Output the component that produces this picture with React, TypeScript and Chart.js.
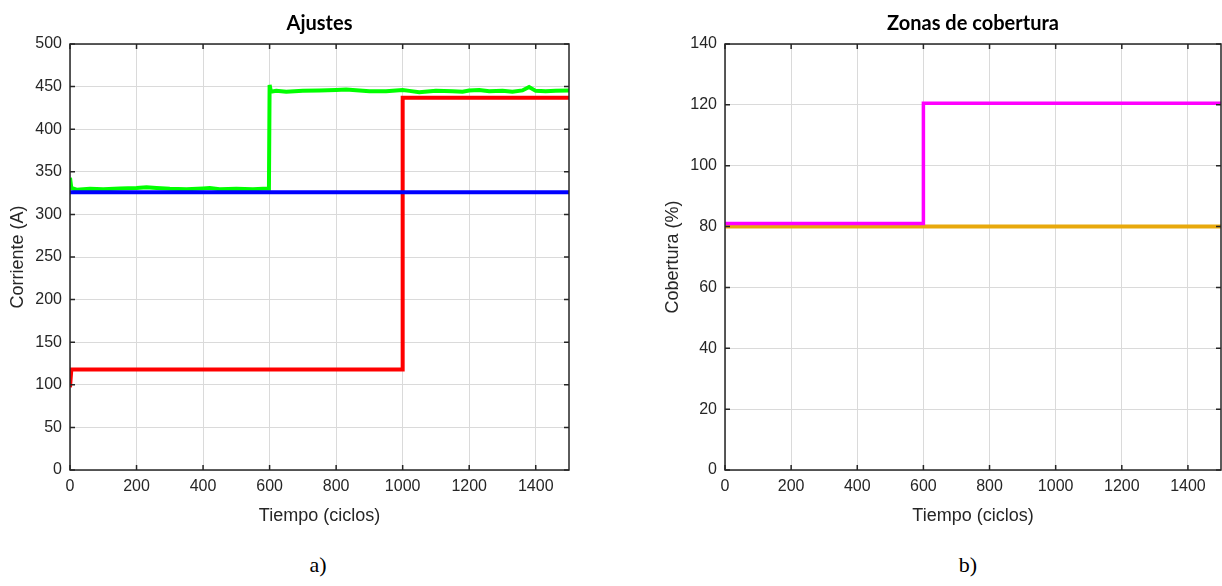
import React, { useEffect, useRef } from "react";
import { Chart, registerables } from "chart.js";

Chart.register(...registerables);

// ---- Data: left plot "Ajustes" ----
const blueX = [0, 1500];
const blueY = [326, 326];

const redX = [0, 0, 4, 1000, 1000, 1500];
const redY = [97, 97, 118, 118, 437, 437];

const greenX = [
  0, 4, 20, 60, 100, 150, 200, 230, 260, 300, 350, 400, 420, 450, 500, 550, 580, 598,
  600, 604, 620, 650, 700, 750, 800, 830, 870, 900, 950, 1000, 1020, 1050, 1100, 1150,
  1180, 1200, 1230, 1260, 1300, 1330, 1360, 1380, 1400, 1430, 1460, 1500,
];
const greenY = [
  343, 331, 329, 330, 329.5, 330.5, 331, 332, 331, 330, 329.5, 330.5, 331, 329.5, 330, 329.5, 330, 330,
  452, 444, 445, 444, 445, 445.5, 446, 446.5, 445.5, 444.5, 444.5, 446, 445, 443.5, 445, 444.5,
  444, 445.5, 446, 444.5, 445, 444, 445.5, 449.5, 445, 444.5, 445, 445.5,
];

// ---- Data: right plot "Zonas de cobertura" ----
const magentaX = [0, 600, 600, 1500];
const magentaY = [81, 81, 120.5, 120.5];
const orangeX = [0, 1500];
const orangeY = [80, 80];

const xTickValues = [0, 200, 400, 600, 800, 1000, 1200, 1400];

const pts = (xs: number[], ys: number[]) => xs.map((x, i) => ({ x, y: ys[i] }));

const AXIS_COLOR = "#262626";
const GRID_COLOR = "#dadada";
const SANS = "'Liberation Sans', Arial, sans-serif";

const boxPlugin = {
  id: "matlabBox",
  afterDraw(chart: any) {
    const { ctx, chartArea: a, scales } = chart;
    ctx.save();
    ctx.strokeStyle = AXIS_COLOR;
    ctx.lineWidth = 1.5;
    ctx.strokeRect(a.left, a.top, a.right - a.left, a.bottom - a.top);
    const len = 5;
    ctx.beginPath();
    scales.x.ticks.forEach((t: any) => {
      const px = scales.x.getPixelForValue(t.value);
      ctx.moveTo(px, a.bottom);
      ctx.lineTo(px, a.bottom - len);
      ctx.moveTo(px, a.top);
      ctx.lineTo(px, a.top + len);
    });
    scales.y.ticks.forEach((t: any) => {
      const py = scales.y.getPixelForValue(t.value);
      ctx.moveTo(a.left, py);
      ctx.lineTo(a.left + len, py);
      ctx.moveTo(a.right, py);
      ctx.lineTo(a.right - len, py);
    });
    ctx.stroke();
    ctx.restore();
  },
};

type DS = { data: { x: number; y: number }[]; color: string; width: number; order: number };

function makeConfig(
  title: string,
  yTitle: string,
  yMax: number,
  yStep: number,
  datasets: DS[],
  padRight: number
): any {
  return {
    type: "line",
    data: {
      datasets: datasets.map((d) => ({
        data: d.data,
        borderColor: d.color,
        backgroundColor: d.color,
        borderWidth: d.width,
        pointRadius: 0,
        tension: 0,
        fill: false,
        order: d.order,
        borderCapStyle: "butt",
        borderJoinStyle: "miter",
      })),
    },
    options: {
      responsive: false,
      animation: false,
      events: [],
      layout: { padding: { left: 0, right: padRight, top: 0, bottom: 0 } },
      plugins: {
        legend: { display: false },
        tooltip: { enabled: false },
        title: {
          display: true,
          text: title,
          fullSize: false,
          color: "#000",
          font: { family: "Lato, 'Open Sans', sans-serif", size: 20, weight: "bold", lineHeight: 1.1 },
          padding: { top: 13, bottom: 9 },
        },
      },
      scales: {
        x: {
          type: "linear",
          min: 0,
          max: 1500,
          afterFit: (s: any) => {
            s.height = 60;
          },
          afterBuildTicks: (s: any) => {
            s.ticks = xTickValues.map((v) => ({ value: v }));
          },
          grid: { color: GRID_COLOR, lineWidth: 1, drawTicks: false },
          border: { display: false },
          ticks: {
            color: AXIS_COLOR,
            padding: 7,
            maxRotation: 0,
            font: { family: SANS, size: 16 },
            callback: (v: number) => String(v),
          },
          title: {
            display: true,
            text: "Tiempo (ciclos)",
            color: AXIS_COLOR,
            font: { family: SANS, size: 18, lineHeight: 1.0 },
            padding: { top: 0, bottom: 5 },
          },
        },
        y: {
          type: "linear",
          min: 0,
          max: yMax,
          afterFit: (s: any) => {
            s.width = 70;
          },
          grid: { color: GRID_COLOR, lineWidth: 1, drawTicks: false },
          border: { display: false },
          ticks: {
            stepSize: yStep,
            color: AXIS_COLOR,
            padding: 8,
            font: { family: SANS, size: 16 },
            callback: (v: number) => String(v),
          },
          title: {
            display: true,
            text: yTitle,
            color: AXIS_COLOR,
            font: { family: SANS, size: 18, lineHeight: 1.0 },
            padding: { top: 9, bottom: 0 },
          },
        },
      },
    },
    plugins: [boxPlugin],
  };
}

function Plot(props: { left: number; width: number; config: any }) {
  const ref = useRef<HTMLCanvasElement | null>(null);
  useEffect(() => {
    if (!ref.current) return;
    const chart = new Chart(ref.current, props.config);
    return () => chart.destroy();
  }, []);
  return (
    <canvas
      ref={ref}
      width={props.width}
      height={530}
      style={{ position: "absolute", left: props.left, top: 0, width: props.width, height: 530 }}
    />
  );
}

const leftConfig = makeConfig(
  "Ajustes",
  "Corriente (A)",
  500,
  50,
  [
    { data: pts(blueX, blueY), color: "#0000ff", width: 4, order: 0 },
    { data: pts(greenX, greenY), color: "#00ff00", width: 4, order: 1 },
    { data: pts(redX, redY), color: "#ff0000", width: 4, order: 2 },
  ],
  31
);

const rightConfig = makeConfig(
  "Zonas de cobertura",
  "Cobertura (%)",
  140,
  20,
  [
    { data: pts(magentaX, magentaY), color: "#ff00ff", width: 3.5, order: 0 },
    { data: pts(orangeX, orangeY), color: "#e8a90c", width: 4, order: 1 },
  ],
  1
);

export default function App() {
  return (
    <div
      style={{
        position: "absolute",
        left: 0,
        top: 0,
        width: 1222,
        height: 586,
        background: "#fff",
        overflow: "hidden",
      }}
    >
      <Plot left={0} width={600} config={leftConfig} />
      <Plot left={655} width={567} config={rightConfig} />
      <div
        style={{
          position: "absolute",
          left: 298,
          width: 40,
          top: 552,
          textAlign: "center",
          fontFamily: "'Liberation Serif', 'Times New Roman', serif",
          fontSize: 22,
        }}
      >
        a)
      </div>
      <div
        style={{
          position: "absolute",
          left: 948,
          width: 40,
          top: 552,
          textAlign: "center",
          fontFamily: "'Liberation Serif', 'Times New Roman', serif",
          fontSize: 22,
        }}
      >
        b)
      </div>
    </div>
  );
}
